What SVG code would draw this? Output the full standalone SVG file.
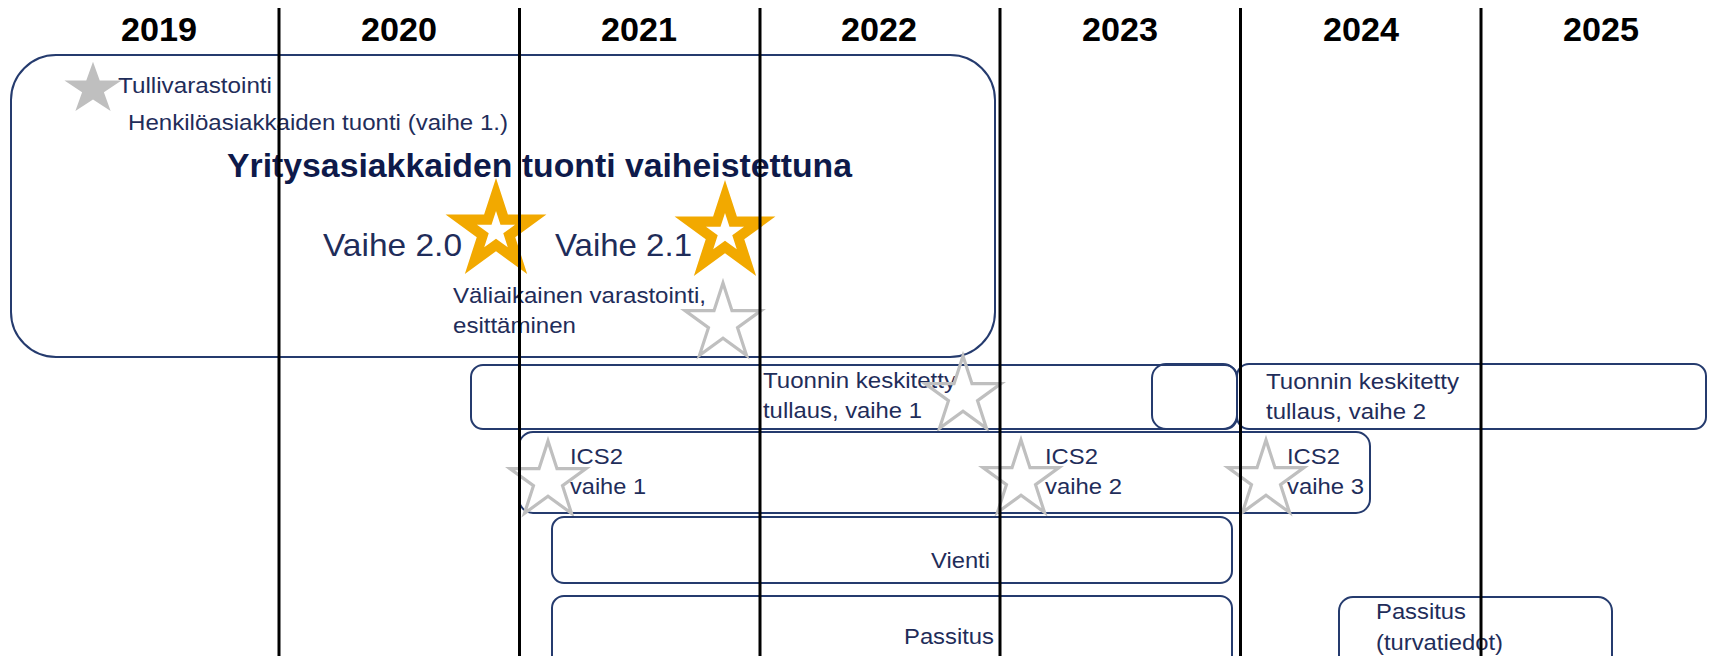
<svg xmlns="http://www.w3.org/2000/svg" xmlns:xlink="http://www.w3.org/1999/xlink" width="1709" height="656" viewBox="0 0 1709 656">
<style>
.year{font-family:"Liberation Sans",Arial,sans-serif;font-weight:bold;font-size:34px;fill:#000;text-anchor:middle}
.t{font-family:"Liberation Sans",Arial,sans-serif;font-size:22px;fill:#1F2D5A}
.big{font-family:"Liberation Sans",Arial,sans-serif;font-size:32px;fill:#1F2D5A}
.bold{font-family:"Liberation Sans",Arial,sans-serif;font-weight:bold;font-size:33.5px;fill:#0E1A4A}
.box{fill:none;stroke:#253B6E;stroke-width:2}
.vline{stroke:#000;stroke-width:3}
.gstar{fill:none;stroke:#BFBFBF;stroke-width:3.2;stroke-linejoin:miter}
</style>
<defs>
<polygon id="star40" points="0,-40 8.98,-12.36 38.04,-12.36 14.53,4.72 23.51,32.36 0,15.28 -23.51,32.36 -14.53,4.72 -38.04,-12.36 -8.98,-12.36"/>
<g id="goldstar">
<polygon points="0,-53 11.90,-16.38 50.41,-16.38 19.26,6.26 31.15,42.88 0,20.25 -31.15,42.88 -19.26,6.26 -50.41,-16.38 -11.90,-16.38" fill="#F2A900"/>
<polygon points="0,-20 4.49,-6.18 19.02,-6.18 7.27,2.36 11.76,16.18 0,7.64 -11.76,16.18 -7.27,2.36 -19.02,-6.18 -4.49,-6.18" fill="#FFFFFF"/>
</g>
</defs>
<rect width="1709" height="656" fill="#FFFFFF"/>

<g id="years">
<text class="year" x="159" y="41" textLength="76" lengthAdjust="spacingAndGlyphs">2019</text>
<text class="year" x="399" y="41" textLength="76" lengthAdjust="spacingAndGlyphs">2020</text>
<text class="year" x="639" y="41" textLength="76" lengthAdjust="spacingAndGlyphs">2021</text>
<text class="year" x="879" y="41" textLength="76" lengthAdjust="spacingAndGlyphs">2022</text>
<text class="year" x="1120" y="41" textLength="76" lengthAdjust="spacingAndGlyphs">2023</text>
<text class="year" x="1361" y="41" textLength="76" lengthAdjust="spacingAndGlyphs">2024</text>
<text class="year" x="1601" y="41" textLength="76" lengthAdjust="spacingAndGlyphs">2025</text>
</g>

<g id="node-import">
<rect class="box" x="11" y="55" width="984" height="302" rx="45" ry="45"/>
<polygon points="0,-40 8.98,-12.36 38.04,-12.36 14.53,4.72 23.51,32.36 0,15.28 -23.51,32.36 -14.53,4.72 -38.04,-12.36 -8.98,-12.36" fill="#BFBFBF" transform="translate(93,89) scale(0.75,0.68)"/>
<text class="t" x="118" y="93" textLength="154" lengthAdjust="spacingAndGlyphs">Tullivarastointi</text>
<text class="t" x="128" y="130" textLength="380" lengthAdjust="spacingAndGlyphs">Henkilöasiakkaiden tuonti (vaihe 1.)</text>
<text class="bold" x="227" y="177" textLength="625" lengthAdjust="spacingAndGlyphs">Yritysasiakkaiden tuonti vaiheistettuna</text>
<text class="big" x="323" y="256" textLength="139" lengthAdjust="spacingAndGlyphs">Vaihe 2.0</text>
<use xlink:href="#goldstar" x="496" y="231"/>
<text class="big" x="555" y="256" textLength="137" lengthAdjust="spacingAndGlyphs">Vaihe 2.1</text>
<use xlink:href="#goldstar" x="725" y="233"/>
<text class="t" x="453" y="303" textLength="253" lengthAdjust="spacingAndGlyphs">Väliaikainen varastointi,</text>
<text class="t" x="453" y="333" textLength="123" lengthAdjust="spacingAndGlyphs">esittäminen</text>
<use xlink:href="#star40" class="gstar" x="723" y="323"/>
</g>

<g id="node-tuonnin1">
<rect class="box" x="471" y="365" width="766" height="64" rx="12" ry="12"/>
<text class="t" x="763" y="388" textLength="193" lengthAdjust="spacingAndGlyphs">Tuonnin keskitetty</text>
<text class="t" x="763" y="418" textLength="159" lengthAdjust="spacingAndGlyphs">tullaus, vaihe 1</text>
<use xlink:href="#star40" class="gstar" x="963" y="396"/>
</g>

<g id="node-small">
<rect class="box" x="1152" y="364" width="85" height="65" rx="14" ry="14"/>
</g>

<g id="node-tuonnin2">
<rect class="box" x="1237" y="364" width="469" height="65" rx="12" ry="12"/>
<text class="t" x="1266" y="389" textLength="193" lengthAdjust="spacingAndGlyphs">Tuonnin keskitetty</text>
<text class="t" x="1266" y="419" textLength="160" lengthAdjust="spacingAndGlyphs">tullaus, vaihe 2</text>
</g>

<g id="node-ics2">
<rect class="box" x="519" y="432" width="851" height="81" rx="14" ry="14"/>
<use xlink:href="#star40" class="gstar" x="548" y="481"/>
<text class="t" x="570" y="464" textLength="53" lengthAdjust="spacingAndGlyphs">ICS2</text>
<text class="t" x="570" y="494" textLength="76" lengthAdjust="spacingAndGlyphs">vaihe 1</text>
<use xlink:href="#star40" class="gstar" x="1021" y="480"/>
<text class="t" x="1045" y="464" textLength="53" lengthAdjust="spacingAndGlyphs">ICS2</text>
<text class="t" x="1045" y="494" textLength="77" lengthAdjust="spacingAndGlyphs">vaihe 2</text>
<use xlink:href="#star40" class="gstar" x="1266" y="480"/>
<text class="t" x="1287" y="464" textLength="53" lengthAdjust="spacingAndGlyphs">ICS2</text>
<text class="t" x="1287" y="494" textLength="77" lengthAdjust="spacingAndGlyphs">vaihe 3</text>
</g>

<g id="node-vienti">
<rect class="box" x="552" y="517" width="680" height="66" rx="12" ry="12"/>
<text class="t" x="931" y="568" textLength="59" lengthAdjust="spacingAndGlyphs">Vienti</text>
</g>

<g id="node-passitus">
<rect class="box" x="552" y="596" width="680" height="75" rx="12" ry="12"/>
<text class="t" x="904" y="644" textLength="90" lengthAdjust="spacingAndGlyphs">Passitus</text>
</g>

<g id="node-passitus-turva">
<rect class="box" x="1339" y="597" width="273" height="75" rx="14" ry="14"/>
<text class="t" x="1376" y="619" textLength="90" lengthAdjust="spacingAndGlyphs">Passitus</text>
<text class="t" x="1376" y="650" textLength="127" lengthAdjust="spacingAndGlyphs">(turvatiedot)</text>
</g>

<g id="connectors">
<line class="vline" x1="279" y1="8" x2="279" y2="656"/>
<line class="vline" x1="519.5" y1="8" x2="519.5" y2="656"/>
<line class="vline" x1="760" y1="8" x2="760" y2="656"/>
<line class="vline" x1="1000" y1="8" x2="1000" y2="656"/>
<line class="vline" x1="1240.5" y1="8" x2="1240.5" y2="656"/>
<line class="vline" x1="1481" y1="8" x2="1481" y2="656"/>
</g>
</svg>
